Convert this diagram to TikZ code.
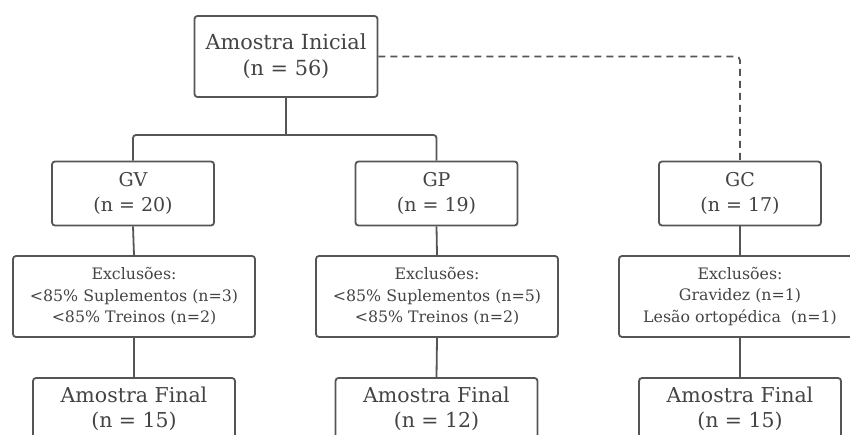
\documentclass[tikz,border=0pt]{standalone}
\usepackage{fontspec}
\setmainfont{DejaVu Serif}
\definecolor{linec}{HTML}{555555}
\definecolor{textc}{HTML}{444444}
\begin{document}
\begin{tikzpicture}[x=1pt,y=-1pt,
  box/.style={draw=linec, line width=1.8pt, rounded corners=3pt, fill=white, align=center, text=textc, inner sep=0pt},
  bigtxt/.style={font=\fontsize{20.8}{26}\selectfont},
  finaltxt/.style={font=\fontsize{20.5}{24.5}\selectfont},
  midtxt/.style={font=\fontsize{19}{25}\selectfont},
  smalltxt/.style={font=\fontsize{15.8}{21.5}\selectfont},
  conn/.style={draw=linec, line width=1.8pt}]
\useasboundingbox (0,0) rectangle (850,435);
\clip (0,0) rectangle (850,435);
\node[box, bigtxt, minimum width=183pt, minimum height=81pt] (ini) at (286,56.5) {Amostra Inicial\\(n = 56)};
\node[box, midtxt, minimum width=162pt, minimum height=64pt] (gv) at (133,193.5) {GV\\(n = 20)};
\node[box, midtxt, minimum width=162pt, minimum height=64pt] (gp) at (436.5,193.5) {GP\\(n = 19)};
\node[box, midtxt, minimum width=162pt, minimum height=64pt] (gc) at (740,193.5) {GC\\(n = 17)};
\node[box, smalltxt, minimum width=242pt, minimum height=81pt] (ev) at (134,296.5) {Exclusões:\\<85\% Suplementos (n=3)\\<85\% Treinos (n=2)};
\node[box, smalltxt, minimum width=242pt, minimum height=81pt] (ep) at (437,296.5) {Exclusões:\\<85\% Suplementos (n=5)\\<85\% Treinos (n=2)};
\node[box, smalltxt, minimum width=242pt, minimum height=81pt] (ec) at (740,296.5) {Exclusões:\\Gravidez (n=1)\\Lesão ortopédica~ (n=1)};
\node[box, finaltxt, minimum width=202pt, minimum height=62pt] (fv) at (134,409) {Amostra Final\\(n = 15)};
\node[box, finaltxt, minimum width=202pt, minimum height=62pt] (fp) at (436.5,409) {Amostra Final\\(n = 12)};
\node[box, finaltxt, minimum width=202pt, minimum height=62pt] (fc) at (740,409) {Amostra Final\\(n = 15)};
\coordinate (split) at (286,135);
\draw[conn] (ini.south) -- (split);
\draw[conn, rounded corners=3pt] (split) -| (gv.north);
\draw[conn, rounded corners=3pt] (split) -| (gp.north);
\draw[conn, dash pattern=on 7pt off 5pt, rounded corners=4pt] (ini.east) -| (gc.north);
\draw[conn] (gv.south) -- (ev.north);
\draw[conn] (gp.south) -- (ep.north);
\draw[conn] (gc.south) -- (ec.north);
\draw[conn] (ev.south) -- (fv.north);
\draw[conn] (ep.south) -- (fp.north);
\draw[conn] (ec.south) -- (fc.north);
\end{tikzpicture}
\end{document}
